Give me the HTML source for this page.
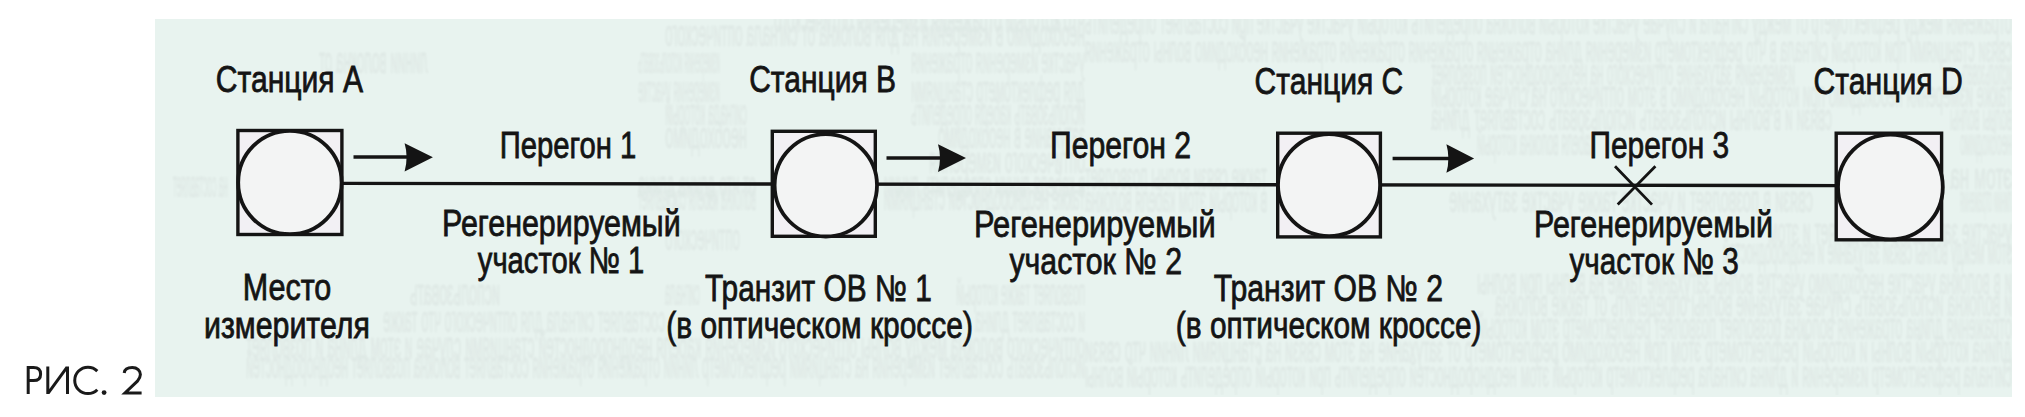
<!DOCTYPE html>
<html><head><meta charset="utf-8"><title>Рис. 2</title>
<style>
html,body{margin:0;padding:0;background:#ffffff;width:2025px;height:417px;overflow:hidden;}
svg{display:block;}
text{font-family:"Liberation Sans",sans-serif;font-size:37px;fill:#141414;stroke:#141414;stroke-width:0.8px;}
</style></head>
<body>
<svg width="2025" height="417" viewBox="0 0 2025 417">
<defs><filter id="bl" x="0" y="0" width="1" height="1"><feGaussianBlur stdDeviation="1.0"/></filter><clipPath id="bx"><rect x="155" y="19" width="1857" height="378"/></clipPath></defs>
<rect x="155" y="19" width="1857" height="378" fill="#e8f3ef"/>
<g clip-path="url(#bx)"><g transform="scale(-1,1)" style="font-size:14px;fill:#000;stroke:none;opacity:0.045" filter="url(#bl)"><text x="-1085" y="32" textLength="311" lengthAdjust="spacingAndGlyphs">что который отражения измерения оптического</text><text x="-1085" y="46" textLength="420" lengthAdjust="spacingAndGlyphs">необходимо в измерения на для волокна от сигнала оптического</text><text x="-428" y="73" textLength="109" lengthAdjust="spacingAndGlyphs">линии волокна от</text><text x="-720" y="73" textLength="82" lengthAdjust="spacingAndGlyphs">измерения использовать</text><text x="-1085" y="73" textLength="174" lengthAdjust="spacingAndGlyphs">участке измерения отражения</text><text x="-720" y="102" textLength="82" lengthAdjust="spacingAndGlyphs">измерения участке</text><text x="-1085" y="102" textLength="174" lengthAdjust="spacingAndGlyphs">для рефлектометр станциями</text><text x="-747" y="125" textLength="82" lengthAdjust="spacingAndGlyphs">сигнала который</text><text x="-1085" y="125" textLength="174" lengthAdjust="spacingAndGlyphs">использовать кабеля определить</text><text x="-747" y="148" textLength="82" lengthAdjust="spacingAndGlyphs">необходимо</text><text x="-1085" y="148" textLength="147" lengthAdjust="spacingAndGlyphs">затухание в необходимо</text><text x="-1085" y="173" textLength="156" lengthAdjust="spacingAndGlyphs">оптического измерения</text><text x="-228" y="197" textLength="55" lengthAdjust="spacingAndGlyphs">на составляет</text><text x="-756" y="197" textLength="118" lengthAdjust="spacingAndGlyphs">от что длина длина</text><text x="-1085" y="197" textLength="201" lengthAdjust="spacingAndGlyphs">в кабеля линии определить линии</text><text x="-756" y="210" textLength="118" lengthAdjust="spacingAndGlyphs">волокна кабеля составляет</text><text x="-1085" y="210" textLength="201" lengthAdjust="spacingAndGlyphs">также неоднородностей станциями</text><text x="-740" y="250" textLength="75" lengthAdjust="spacingAndGlyphs">оптического</text><text x="-500" y="305" textLength="90" lengthAdjust="spacingAndGlyphs">использовать</text><text x="-700" y="305" textLength="35" lengthAdjust="spacingAndGlyphs">сигнала</text><text x="-1085" y="305" textLength="129" lengthAdjust="spacingAndGlyphs">позволяет также который</text><text x="-665" y="332" textLength="282" lengthAdjust="spacingAndGlyphs">составляет сигнала для оптического что также</text><text x="-1085" y="332" textLength="110" lengthAdjust="spacingAndGlyphs">и составляет длина</text><text x="-1085" y="358" textLength="839" lengthAdjust="spacingAndGlyphs">оптического волокна между волны оптического измерения кабеля неоднородностей станциями случае и этом длина и позволяет</text><text x="-1085" y="378" textLength="839" lengthAdjust="spacingAndGlyphs">использовать составляет измерения на станциями рефлектометр линии отражения отражения составляет волокна позволяет неоднородностей</text><text x="-2012" y="34" textLength="927" lengthAdjust="spacingAndGlyphs">отражения между рефлектометр от между сигнала и случае участке который волокна определить который участке участке при составляет определить</text><text x="-2012" y="62" textLength="927" lengthAdjust="spacingAndGlyphs">связи станциями при который сигнала в что рефлектометр измерения длина отражения отражения отражения отражения необходимо волны отражения</text><text x="-1795" y="85" textLength="364" lengthAdjust="spacingAndGlyphs">измерения затухание оптического на неоднородностей позволяет</text><text x="-2012" y="85" textLength="52" lengthAdjust="spacingAndGlyphs">использовать</text><text x="-2012" y="107" textLength="581" lengthAdjust="spacingAndGlyphs">также измерения необходимо при который необходимо в этом оптического на случае который</text><text x="-1832" y="130" textLength="401" lengthAdjust="spacingAndGlyphs">связи и в волны использовать использовать составляет длина</text><text x="-2012" y="130" textLength="62" lengthAdjust="spacingAndGlyphs">волны волны</text><text x="-1595" y="155" textLength="118" lengthAdjust="spacingAndGlyphs">кабеля волокна который</text><text x="-2012" y="155" textLength="52" lengthAdjust="spacingAndGlyphs">необходимо</text><text x="-1267" y="189" textLength="182" lengthAdjust="spacingAndGlyphs">также связи волны позволяет</text><text x="-2012" y="189" textLength="62" lengthAdjust="spacingAndGlyphs">этом на</text><text x="-1267" y="212" textLength="182" lengthAdjust="spacingAndGlyphs">в который этом кабеля волокна</text><text x="-1813" y="212" textLength="364" lengthAdjust="spacingAndGlyphs">связи в позволяет и участке также участке затухание</text><text x="-2012" y="212" textLength="52" lengthAdjust="spacingAndGlyphs">линии отражения</text><text x="-2012" y="244" textLength="244" lengthAdjust="spacingAndGlyphs">участке затухание составляет и этом</text><text x="-2012" y="264" textLength="289" lengthAdjust="spacingAndGlyphs">этом между волны связи затухание и неоднородностей</text><text x="-2012" y="294" textLength="535" lengthAdjust="spacingAndGlyphs">и в волокна участке необходимо участке волны затухание также на волны при волны</text><text x="-2012" y="316" textLength="517" lengthAdjust="spacingAndGlyphs">и волокна использовать случае затухание волны определить от также волокна</text><text x="-2012" y="339" textLength="535" lengthAdjust="spacingAndGlyphs">отражения длина отражения волокна позволяет позволяет рефлектометр этом который</text><text x="-2012" y="362" textLength="927" lengthAdjust="spacingAndGlyphs">длина который волны и который рефлектометр этом при необходимо рефлектометр от затухание на этом связи на станциями линии что связи</text><text x="-2012" y="387" textLength="927" lengthAdjust="spacingAndGlyphs">сигнала рефлектометр измерения и длина сигнала рефлектометр который этом неоднородностей определить при который определить который волны</text></g></g>
<path d="M340,183.4 L1840,185.6" stroke="#141414" stroke-width="3.4" fill="none"/>
<rect x="237.90" y="130.50" width="104.00" height="104.00" fill="#f2f0f4" stroke="#141414" stroke-width="3.4"/>
<circle cx="289.90" cy="182.50" r="51.70" fill="#f3f4f4" stroke="#141414" stroke-width="3.8"/>
<rect x="772.30" y="131.30" width="103.00" height="105.00" fill="#f2f0f4" stroke="#141414" stroke-width="3.4"/>
<circle cx="825.80" cy="185.30" r="51.20" fill="#f3f4f4" stroke="#141414" stroke-width="3.8"/>
<rect x="1277.70" y="133.20" width="102.70" height="103.70" fill="#f2f0f4" stroke="#141414" stroke-width="3.4"/>
<circle cx="1329.05" cy="185.05" r="51.05" fill="#f3f4f4" stroke="#141414" stroke-width="3.8"/>
<rect x="1836.20" y="133.20" width="105.40" height="106.60" fill="#f2f0f4" stroke="#141414" stroke-width="3.4"/>
<circle cx="1890.40" cy="187.00" r="52.40" fill="#f3f4f4" stroke="#141414" stroke-width="3.8"/>
<path d="M353.5,157.0 L408.6,157.0" stroke="#141414" stroke-width="3.6" fill="none"/>
<path d="M404.6,143.3 L432.9,157.2 L404.6,171.6 Q408.6,157.2 404.6,143.3 Z" fill="#141414"/>
<path d="M886.5,158.0 L942,158.0" stroke="#141414" stroke-width="3.6" fill="none"/>
<path d="M938,144.3 L966,157.9 L938,172 Q942,157.9 938,144.3 Z" fill="#141414"/>
<path d="M1392.6,158.5 L1450.4,158.5" stroke="#141414" stroke-width="3.6" fill="none"/>
<path d="M1446.4,144.3 L1474.1,158.5 L1446.4,172.8 Q1450.4,158.5 1446.4,144.3 Z" fill="#141414"/>
<path d="M1615,166.2 L1652,204.6 M1655.4,166.2 L1617.7,204.6" stroke="#141414" stroke-width="2.8" fill="none"/>
<g>
<text transform="translate(215.77,92.40) scale(0.8134,1.0000)">Станция A</text>
<text transform="translate(749.18,91.80) scale(0.8107,1.0000)">Станция B</text>
<text transform="translate(1254.58,93.50) scale(0.8122,1.0000)">Станция C</text>
<text transform="translate(1813.47,94.00) scale(0.8156,1.0000)">Станция D</text>
<text transform="translate(499.63,157.60) scale(0.7905,1.0000)">Перегон 1</text>
<text transform="translate(1050.05,158.10) scale(0.8161,1.0000)">Перегон 2</text>
<text transform="translate(1589.48,157.60) scale(0.8083,1.0000)">Перегон 3</text>
<text transform="translate(442.04,236.30) scale(0.8211,1.0000)">Регенерируемый</text>
<text transform="translate(477.80,273.00) scale(0.7895,1.0000)">участок № 1</text>
<text transform="translate(973.90,236.60) scale(0.8319,1.0000)">Регенерируемый</text>
<text transform="translate(1009.40,274.00) scale(0.8182,1.0000)">участок № 2</text>
<text transform="translate(1533.93,236.60) scale(0.8232,1.0000)">Регенерируемый</text>
<text transform="translate(1569.40,274.00) scale(0.8029,1.0000)">участок № 3</text>
<text transform="translate(242.72,300.40) scale(0.8252,1.0000)">Место</text>
<text transform="translate(203.94,337.50) scale(0.8203,1.0000)">измерителя</text>
<text transform="translate(704.99,301.00) scale(0.8065,1.0000)">Транзит ОВ № 1</text>
<text transform="translate(666.18,337.50) scale(0.8096,1.0000)">(в оптическом кроссе)</text>
<text transform="translate(1213.78,301.00) scale(0.8151,1.0000)">Транзит ОВ № 2</text>
<text transform="translate(1175.79,338.00) scale(0.8069,1.0000)">(в оптическом кроссе)</text>
</g>
<g fill="none" stroke="#1a1a1a" stroke-width="3.0" stroke-linecap="butt">
<path d="M28.2,394 L28.2,367.6 L33.5,367.6 C38.6,367.6 40.6,370.6 40.6,374.2 C40.6,378 38.2,380.6 33.5,380.6 L28.2,380.6"/>
<path d="M47.8,366.4 L47.8,394 M67.5,366.4 L67.5,394 M48.2,393.2 L67.1,367.2"/>
<path d="M97.3,371.1 A13.2,13.2 0 1 0 97.3,389.7"/>
<path d="M124.2,373 C124.6,369.5 128,367.6 132.3,367.6 C137.2,367.6 140.4,370.8 140.4,374.6 C140.4,377.2 139.2,379 137.4,381.2 L125,393 L141.6,393"/>
</g>
<circle cx="104.1" cy="392.6" r="2.4" fill="#1a1a1a"/>
</svg>
</body></html>
